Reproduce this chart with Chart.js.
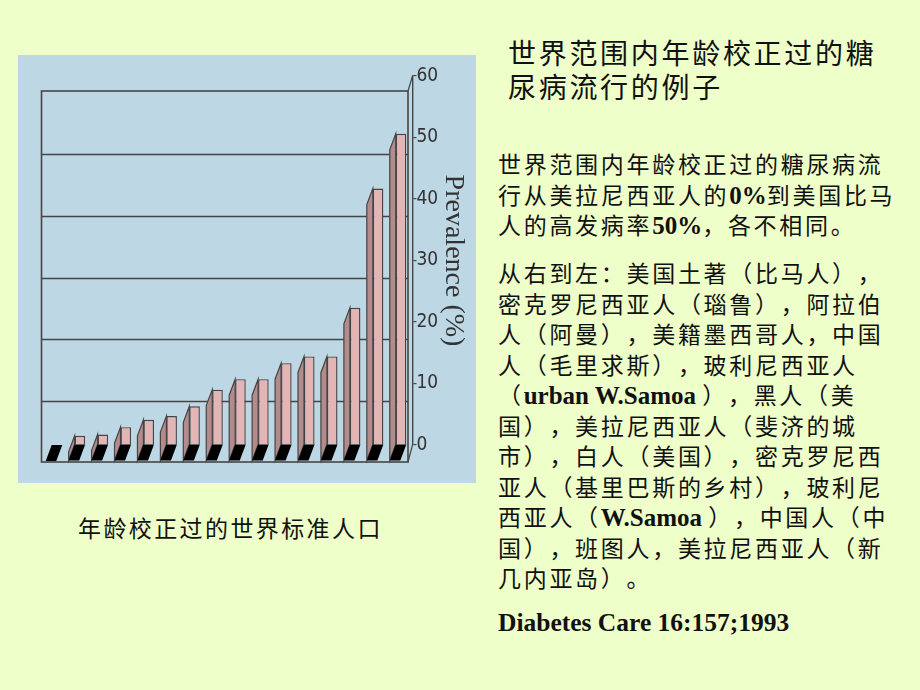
<!DOCTYPE html>
<html lang="zh">
<head>
    <meta charset="UTF-8">
    <title>世界范围内年龄校正过的糖尿病流行的例子</title>
    <script src="https://cdn.jsdelivr.net/npm/chart.js"></script>
    <style>
        body { margin: 0; width: 920px; height: 690px; background: #eeffc9; position: relative; overflow: hidden;
               font-family: "Noto Sans CJK SC", sans-serif; color: #111; text-spacing-trim: space-all; }
        #panel { position: absolute; left: 18px; top: 55px; width: 458px; height: 428px; background: #bed7e4; }
        .title { position: absolute; left: 508px; top: 35px; font-size: 28px; letter-spacing: 2.7px; white-space: nowrap; }
        .title div { height: 34px; line-height: 34px; }
        .para { position: absolute; left: 498px; font-size: 23px; letter-spacing: 2.7px; white-space: nowrap; }
        .para div { height: 30.5px; line-height: 30.5px; }
        .lat { font-family: "Liberation Serif", serif; font-weight: bold; font-size: 25px; letter-spacing: 0; line-height: 0; }
        .caption { position: absolute; left: 78px; top: 512px; font-size: 23px; letter-spacing: 2.4px; line-height: 30px; white-space: nowrap; }
        .ref { position: absolute; left: 498px; top: 608px; font-family: "Liberation Serif", serif; font-weight: bold; font-size: 25.5px; line-height: 30px; white-space: nowrap; }
    </style>
</head>
<body>
    <div id="panel"><canvas id="prevChart" width="458" height="428"></canvas></div>

    <div class="title">
        <div>世界范围内年龄校正过的糖</div>
        <div>尿病流行的例子</div>
    </div>

    <div class="para" style="top:148px">
        <div>世界范围内年龄校正过的糖尿病流</div>
        <div>行从美拉尼西亚人的<span class="lat">0%</span>到美国比马</div>
        <div>人的高发病率<span class="lat">50%</span>，各不相同。</div>
    </div>

    <div class="para" style="top:257px">
        <div>从右到左：美国土著（比马人），</div>
        <div>密克罗尼西亚人（瑙鲁），阿拉伯</div>
        <div>人（阿曼），美籍墨西哥人，中国</div>
        <div>人（毛里求斯），玻利尼西亚人</div>
        <div>（<span class="lat">urban W.Samoa </span>），黑人（美</div>
        <div>国），美拉尼西亚人（斐济的城</div>
        <div>市），白人（美国），密克罗尼西</div>
        <div>亚人（基里巴斯的乡村），玻利尼</div>
        <div>西亚人（<span class="lat">W.Samoa </span>），中国人（中</div>
        <div>国），班图人，美拉尼西亚人（新</div>
        <div>几内亚岛）。</div>
    </div>

    <div class="ref">Diabetes Care 16:157;1993</div>

    <div class="caption">年龄校正过的世界标准人口</div>

    <script>
        // populations, left to right (no labels are shown on the axis)
        const categories = ["1", "2", "3", "4", "5", "6", "7", "8", "9", "10", "11", "12", "13", "14", "15", "16"];
        const prevalence = [0, 1.5, 1.7, 2.9, 4.1, 4.7, 6.3, 9.0, 10.7, 10.7, 13.3, 14.4, 14.4, 22.3, 41.7, 50.6];
        const yTicks = [0, 10, 20, 30, 40, 50, 60];

        const lineColor = "#454545";
        const frontColor = "#e3b5b5";
        const sideColor = "#b38b8b";

        // fake 3D look: back wall + gridlines shifted, bar side faces and black feet
        const wall3d = {
            id: "wall3d",
            beforeDatasetsDraw(chart) {
                const { ctx, chartArea, scales } = chart;
                const y = scales.y;
                const shiftX = -4.5, shiftY = 17;
                const left = chartArea.left - 4, right = chartArea.right + shiftX;
                const top = y.getPixelForValue(60) + 15, bottom = y.getPixelForValue(0) + shiftY;
                ctx.save();
                ctx.strokeStyle = lineColor;
                ctx.lineWidth = 1.6;
                ctx.strokeRect(left, top, right - left, bottom - top);
                yTicks.slice(1, -1).forEach(v => {
                    const py = Math.round(y.getPixelForValue(v) + shiftY) + 0.5;
                    ctx.beginPath();
                    ctx.moveTo(left, py);
                    ctx.lineTo(right, py);
                    ctx.stroke();
                });
                // connect wall corners to the front axis
                ctx.lineWidth = 1.2;
                ctx.beginPath();
                ctx.moveTo(right, top);
                ctx.lineTo(chartArea.right, y.getPixelForValue(60));
                ctx.moveTo(right, bottom);
                ctx.lineTo(chartArea.right, y.getPixelForValue(0));
                ctx.stroke();
                ctx.restore();
            },
            afterDatasetsDraw(chart) {
                const { ctx } = chart;
                const dx = -6, dy = 16;
                ctx.save();
                ctx.strokeStyle = lineColor;
                ctx.lineWidth = 1.2;
                chart.getDatasetMeta(0).data.forEach(bar => {
                    const p = bar.getProps(["x", "y", "base", "width"], true);
                    const x0 = p.x - p.width / 2, x1 = p.x + p.width / 2;
                    if (p.base - p.y > 0.5) {
                        ctx.fillStyle = sideColor;
                        ctx.beginPath();
                        ctx.moveTo(x0, p.y);
                        ctx.lineTo(x0 + dx, p.y + dy);
                        ctx.lineTo(x0 + dx, p.base + dy);
                        ctx.lineTo(x0, p.base);
                        ctx.closePath();
                        ctx.fill();
                        ctx.stroke();
                    }
                    ctx.fillStyle = "#000";
                    ctx.beginPath();
                    ctx.moveTo(x0, p.base);
                    ctx.lineTo(x1, p.base);
                    ctx.lineTo(x1 + dx, p.base + dy);
                    ctx.lineTo(x0 + dx, p.base + dy);
                    ctx.closePath();
                    ctx.fill();
                });
                ctx.restore();
            }
        };

        new Chart(document.getElementById("prevChart").getContext("2d"), {
            type: "bar",
            data: {
                labels: categories,
                datasets: [{
                    label: "Prevalence (%)",
                    data: prevalence,
                    backgroundColor: frontColor,
                    borderColor: lineColor,
                    borderWidth: 1.4,
                    categoryPercentage: 1,
                    barPercentage: 0.46
                }]
            },
            options: {
                responsive: false,
                animation: false,
                devicePixelRatio: 1,
                layout: { padding: { left: 27.5, top: 21, bottom: 38, right: 0 } },
                plugins: { legend: { display: false }, tooltip: { enabled: false } },
                scales: {
                    x: { display: false },
                    y: {
                        position: "right",
                        min: 0,
                        max: 60,
                        afterFit(scale) { scale.width = 63.5; },
                        afterBuildTicks(scale) { scale.ticks = yTicks.map(v => ({ value: v })); },
                        grid: { drawOnChartArea: false, drawTicks: true, tickLength: 4, color: lineColor, lineWidth: 1.2 },
                        border: { display: true, color: lineColor, width: 1.4 },
                        ticks: {
                            padding: 0,
                            color: "#333",
                            font: { family: "'Liberation Sans Narrow', 'DejaVu Sans Condensed', sans-serif", size: 19 }
                        },
                        title: {
                            display: true,
                            text: "Prevalence (%)",
                            color: "#333",
                            padding: { top: 6, bottom: 0 },
                            font: { family: "'Liberation Serif', serif", size: 28 }
                        }
                    }
                }
            },
            plugins: [wall3d]
        });
    </script>
</body>
</html>
